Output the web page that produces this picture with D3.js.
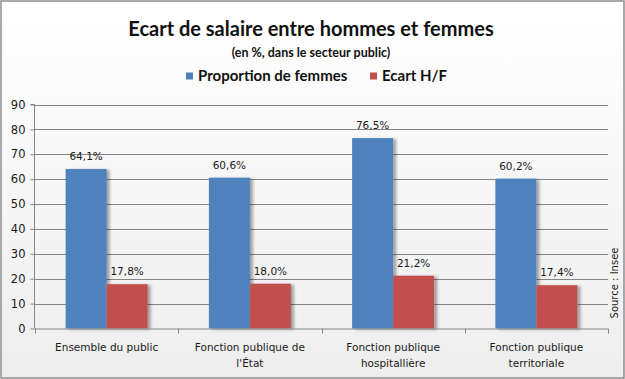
<!DOCTYPE html>
<html><head><meta charset="utf-8">
<script src="https://cdn.jsdelivr.net/npm/d3@7/dist/d3.min.js"></script>
<style>html,body{margin:0;padding:0;background:#fff;}svg{display:block;}</style>
</head><body>
<script>
const categories = [["Ensemble du public"], ["Fonction publique de", "l'État"], ["Fonction publique", "hospitallière"], ["Fonction publique", "territoriale"]];
const seriesNames = ["Proportion de femmes", "Ecart H/F"];
const proportionFemmes = [64.1, 60.6, 76.5, 60.2];
const ecartHF = [17.8, 18.0, 21.2, 17.4];
const yTicks = [0, 10, 20, 30, 40, 50, 60, 70, 80, 90];
const colors = ["#4F81BD", "#C0504D"];

const W = 625, H = 379;
const svg = d3.select("body").append("svg").attr("width", W).attr("height", H);
const defs = svg.append("defs");
const bg = defs.append("linearGradient").attr("id", "bg").attr("x1", 0).attr("y1", 0).attr("x2", 0).attr("y2", 1);
bg.append("stop").attr("offset", "0%").attr("stop-color", "#ffffff");
bg.append("stop").attr("offset", "100%").attr("stop-color", "#eeeeee");
const sh = defs.append("filter").attr("id", "shadow").attr("x", "-20%").attr("y", "-20%").attr("width", "150%").attr("height", "140%");
sh.append("feDropShadow").attr("dx", 3).attr("dy", 1).attr("stdDeviation", 1.6).attr("flood-color", "#000").attr("flood-opacity", 0.35);

svg.append("rect").attr("x", 1).attr("y", 1).attr("width", W - 2).attr("height", H - 2)
  .attr("fill", "url(#bg)").attr("stroke", "#8e8e8e").attr("stroke-width", 1.5);

const font = "'DejaVu Sans', Verdana, sans-serif";
const titleFont = "Lato, 'Open Sans', sans-serif";

svg.append("text").attr("x", 311).attr("y", 36).attr("text-anchor", "middle")
  .attr("font-family", titleFont).attr("font-weight", 700).attr("font-size", 20).attr("fill", "#111")
  .text("Ecart de salaire entre hommes et femmes");
svg.append("text").attr("x", 311).attr("y", 57).attr("text-anchor", "middle")
  .attr("font-family", titleFont).attr("font-weight", 700).attr("font-size", 12.5).attr("fill", "#111")
  .text("(en %, dans le secteur public)");

// legend
const legX = [186, 370];
seriesNames.forEach((n, i) => {
  svg.append("rect").attr("x", legX[i]).attr("y", 72.5).attr("width", 7).attr("height", 7).attr("fill", colors[i]);
  svg.append("text").attr("x", legX[i] + 12).attr("y", 81).attr("font-family", titleFont).attr("font-weight", 700)
    .attr("font-size", 15).attr("fill", "#111").text(n);
});

const x0 = 35, x1 = 608, yTop = 104.5, yBot = 328.5;
const y = d3.scaleLinear().domain([0, 90]).range([yBot, yTop]);
const x = d3.scaleBand().domain(d3.range(categories.length)).range([x0, x1]).padding(0);
const xs = d3.scaleBand().domain([0, 1]).range([0, x.bandwidth()]).paddingInner(0).paddingOuter(0.747);

// gridlines
svg.append("g").selectAll("line").data(yTicks.filter(d => d > 0)).join("line")
  .attr("x1", x0).attr("x2", x1).attr("y1", d => Math.round(y(d)) + 0.5).attr("y2", d => Math.round(y(d)) + 0.5)
  .attr("stroke", "#858585").attr("stroke-width", 1);

// y axis
const yAxis = svg.append("g").attr("transform", `translate(${x0 - 0.5},0)`)
  .call(d3.axisLeft(y).tickValues(yTicks).tickSize(4).tickPadding(5).tickFormat(d3.format("d")));
yAxis.select(".domain").attr("stroke", "#858585").attr("d", `M-4,${yTop}H0V${yBot}`);
yAxis.selectAll(".tick line").attr("stroke", "#858585");
yAxis.selectAll("text").attr("font-family", font).attr("font-size", 11.5).attr("fill", "#1a1a1a");

// bars
const series = [proportionFemmes, ecartHF];
const groups = svg.append("g").selectAll("g").data(categories).join("g")
  .attr("transform", (d, i) => `translate(${x(i)},0)`);
series.forEach((vals, s) => {
  groups.append("rect")
    .attr("x", (d, i) => xs(s)).attr("width", xs.bandwidth())
    .attr("y", (d, i) => y(vals[categories.indexOf(d)])).attr("height", (d) => yBot - y(vals[categories.indexOf(d)]))
    .attr("fill", colors[s]).attr("filter", "url(#shadow)");
  groups.append("text")
    .attr("x", xs(s) + xs.bandwidth() / 2).attr("y", d => y(vals[categories.indexOf(d)]) - 9)
    .attr("text-anchor", "middle").attr("font-family", font).attr("font-size", 10.5).attr("fill", "#1a1a1a")
    .text(d => d3.format(".1f")(vals[categories.indexOf(d)]).replace(".", ",") + "%");
});

// x axis
const xa = svg.append("g");
xa.append("line").attr("x1", x0).attr("x2", x1).attr("y1", yBot + 0.5).attr("y2", yBot + 0.5).attr("stroke", "#858585");
xa.selectAll("line.tk").data(d3.range(categories.length + 1)).join("line").attr("class", "tk")
  .attr("x1", i => Math.round(x0 + i * x.step()) + 0.5).attr("x2", i => Math.round(x0 + i * x.step()) + 0.5)
  .attr("y1", yBot).attr("y2", yBot + 5).attr("stroke", "#858585");
xa.selectAll("text").data(categories).join("text")
  .attr("text-anchor", "middle").attr("font-family", font).attr("font-size", 10.5).attr("fill", "#1a1a1a")
  .attr("transform", (d, i) => `translate(${x(i) + x.bandwidth() / 2},351)`)
  .selectAll("tspan").data(d => d).join("tspan").attr("x", 0).attr("dy", (d, j) => j === 0 ? 0 : 16).text(d => d);

// source
svg.append("text").attr("transform", "translate(618,283) rotate(-90)").attr("text-anchor", "middle")
  .attr("font-family", font).attr("font-size", 10).attr("fill", "#1a1a1a").text("Source : Insee");
</script>
</body></html>
